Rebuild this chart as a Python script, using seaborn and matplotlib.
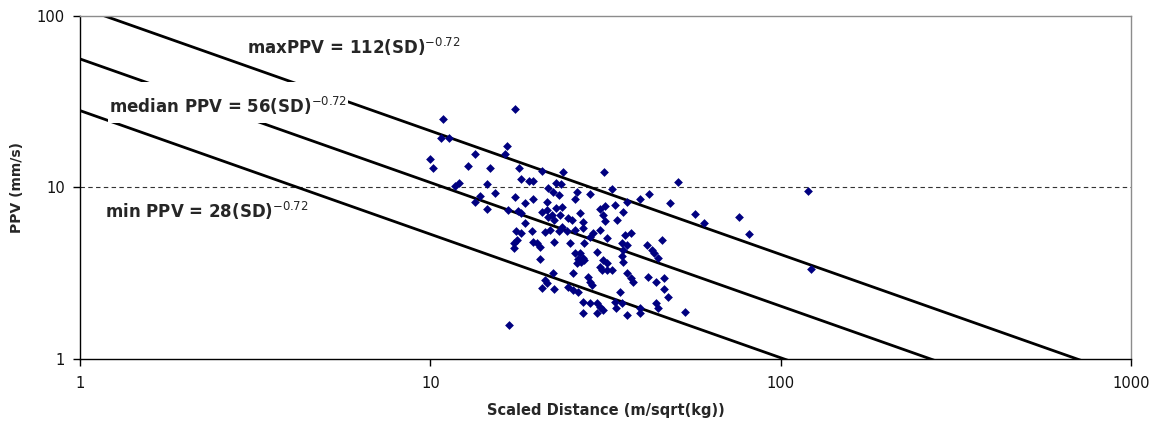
import numpy as np
import pandas as pd
import seaborn as sns
import matplotlib
matplotlib.use("Agg")
import matplotlib.pyplot as plt
from matplotlib.path import Path
from matplotlib.ticker import FixedLocator, FixedFormatter, NullLocator

# ---- data ----
scaled_distance = [
    17.5, 10.9, 10.7, 11.3, 16.6, 16.3, 13.4, 10.0, 10.2, 12.8,
    14.85, 17.9, 20.9, 18.2, 19.1, 19.6, 11.75, 12.1, 14.5, 15.3,
    13.9, 17.5, 19.6, 18.6, 13.4, 14.5, 21.5, 21.6, 22.4, 22.9,
    21.5, 22.9, 16.7, 17.8, 18.2, 20.9, 21.6, 22.2, 22.6, 18.6,
    17.6, 18.2, 19.5, 21.2, 21.9, 17.3, 17.7, 19.6, 20.2, 20.5,
    17.3, 22.6, 20.5, 22.4, 21.2, 21.5, 20.9, 22.6, 16.75, 23.9,
    31.3, 50.8, 23.6, 26.2, 25.9, 28.5, 32.9, 42.0, 39.6, 48.2,
    33.6, 36.4, 31.5, 30.45, 35.5, 23.7, 23.3, 56.8, 23.4, 24.7,
    25.3, 26.7, 27.2, 31.1, 34.1, 23.7, 24.5, 27.2, 29.1, 28.5,
    30.45, 25.0, 27.5, 32.0, 35.9, 37.5, 35.2, 36.4, 41.5, 42.8,
    43.6, 45.8, 25.9, 26.7, 27.2, 26.4, 26.2, 27.0, 27.5, 30.0,
    31.1, 31.9, 30.45, 30.85, 31.9, 32.9, 35.4, 35.2, 35.4, 44.6,
    25.5, 28.1, 36.4, 37.5, 37.8, 41.7, 44.1, 46.5, 24.7, 25.5,
    26.4, 28.5, 28.9, 34.7, 27.2, 28.5, 29.9, 30.45, 31.1, 33.6,
    33.8, 35.2, 39.6, 27.2, 30.0, 36.4, 39.6, 44.1, 46.3, 47.6,
    44.6, 53.2, 60.3, 75.9, 81.0, 119.4, 121.8, 31.5, 25.9, 23.3,
]
ppv_values = [
    28.6, 24.9, 19.4, 19.4, 17.4, 15.6, 15.6, 14.6, 12.9, 13.4,
    13.0, 13.0, 12.4, 11.2, 10.9, 10.9, 10.2, 10.6, 10.4, 9.3,
    8.9, 8.75, 8.6, 8.1, 8.2, 7.5, 8.2, 9.9, 9.4, 10.6,
    7.4, 7.6, 7.4, 7.3, 7.1, 7.2, 6.7, 6.9, 6.45, 6.2,
    5.57, 5.42, 5.57, 5.5, 5.64, 4.74, 4.93, 4.8, 4.74, 4.5,
    4.45, 4.8, 3.82, 3.17, 2.88, 2.77, 2.59, 2.55, 1.58, 12.3,
    12.3, 10.7, 10.4, 9.4, 8.55, 9.2, 9.8, 9.2, 8.55, 8.1,
    7.9, 8.2, 7.8, 7.5, 7.2, 7.7, 9.0, 6.98, 6.9, 6.6,
    6.45, 7.1, 6.3, 6.9, 6.45, 5.87, 5.57, 5.8, 5.42, 5.13,
    5.64, 4.74, 4.74, 5.07, 5.3, 5.42, 4.74, 4.6, 4.6, 4.31,
    4.14, 4.93, 4.14, 4.14, 3.87, 3.82, 3.63, 3.67, 3.77, 4.2,
    3.77, 3.63, 3.44, 3.30, 3.30, 3.30, 4.31, 3.97, 3.67, 3.87,
    3.17, 3.0, 3.17, 2.96, 2.81, 3.0, 2.81, 2.96, 2.62, 2.52,
    2.45, 2.81, 2.7, 2.45, 2.15, 2.12, 2.12, 2.0, 1.93, 2.15,
    1.98, 2.12, 1.98, 1.85, 1.85, 1.8, 1.85, 2.12, 2.55, 2.3,
    1.98, 1.88, 6.2, 6.7, 5.34, 9.5, 3.35, 6.4, 5.64, 5.57,
]

curve_names = ["max", "median", "min"]
curve_coefs = [112, 56, 28]
curve_exponent = -0.72
curve_sd = [1, 1000]
curve_labels = ["maxPPV = 112(SD)", "median PPV = 56(SD)", "min PPV = 28(SD)"]
threshold_ppv = 10

x_ticks = [1, 10, 100, 1000]
x_ticklabels = ["1", "10", "100", "1000"]
y_ticks = [1, 10, 100]
y_ticklabels = ["1", "10", "100"]

# ---- tables ----
points = pd.DataFrame({"sd": scaled_distance, "ppv": ppv_values})
rows = []
for name, c in zip(curve_names, curve_coefs):
    for s in curve_sd:
        rows.append({"curve": name, "sd": s, "ppv": c * s ** curve_exponent})
curves = pd.DataFrame(rows)

# ---- style ----
sns.set_theme(style="white")
plt.rcParams["font.family"] = ["DejaVu Sans"]
plt.rcParams["mathtext.fontset"] = "dejavusans"
plt.rcParams["mathtext.default"] = "rm"
plt.rcParams["xtick.bottom"] = True
plt.rcParams["ytick.left"] = True
plt.rcParams["xtick.major.size"] = 5
plt.rcParams["ytick.major.size"] = 5
plt.rcParams["xtick.major.width"] = 1
plt.rcParams["ytick.major.width"] = 1
plt.rcParams["xtick.color"] = "black"
plt.rcParams["ytick.color"] = "black"

fig = plt.figure(figsize=(11.56, 4.28), dpi=100)
ax = fig.add_axes([80 / 1156, 69 / 428, 1051 / 1156, 343.3 / 428])

ax.set_xscale("log")
ax.set_yscale("log")

sns.lineplot(data=curves, x="sd", y="ppv", units="curve", estimator=None,
             color="black", linewidth=2.0, ax=ax, zorder=2, legend=False)

ax.axhline(threshold_ppv, color="#333333", linewidth=0.8, dashes=(4, 3), zorder=1.5)

sns.scatterplot(data=points, x="sd", y="ppv", marker="D", s=20,
                color="#000080", linewidth=0, ax=ax, zorder=4, legend=False)


def label_box(x0, y0, width, height, mutation_size):
    # white label background, taller above the text than below (as in the source)
    left = x0 - 0.05 * mutation_size
    right = x0 + width + 0.1 * mutation_size
    bottom = y0 - 0.35 * mutation_size
    top = y0 + height + 0.75 * mutation_size
    return Path([(left, bottom), (right, bottom), (right, top), (left, top), (left, bottom)],
                closed=True)


sup = r"$^{\mathrm{%s}}$" % str(curve_exponent)
ax.text(3.0, 59.7, curve_labels[0] + sup, fontsize=12, fontweight="bold",
        ha="left", va="baseline", zorder=3,
        bbox=dict(boxstyle="square,pad=0.1", facecolor="white", edgecolor="none"))
ax.text(1.21, 27.1, curve_labels[1] + sup, fontsize=12, fontweight="bold",
        ha="left", va="baseline", zorder=3,
        bbox=dict(boxstyle=label_box, facecolor="white", edgecolor="none"))
ax.text(1.18, 6.62, curve_labels[2] + sup, fontsize=12, fontweight="bold",
        ha="left", va="baseline", zorder=3)

ax.set_xlim(1, 1000)
ax.set_ylim(1, 100)

ax.xaxis.set_major_locator(FixedLocator(x_ticks))
ax.xaxis.set_major_formatter(FixedFormatter(x_ticklabels))
ax.xaxis.set_minor_locator(NullLocator())
ax.yaxis.set_major_locator(FixedLocator(y_ticks))
ax.yaxis.set_major_formatter(FixedFormatter(y_ticklabels))
ax.yaxis.set_minor_locator(NullLocator())

ax.tick_params(axis="both", which="major", direction="out", length=5, width=1,
               color="black", labelsize=10.6, labelcolor="#111111",
               bottom=True, left=True, top=False, right=False)
ax.tick_params(axis="x", pad=7)
ax.tick_params(axis="y", pad=6)

for side in ["left", "bottom"]:
    ax.spines[side].set_color("black")
    ax.spines[side].set_linewidth(1.0)
for side in ["top", "right"]:
    ax.spines[side].set_color("#8c8c8c")
    ax.spines[side].set_linewidth(1.0)
    ax.spines[side].set_visible(True)

ax.set_xlabel("Scaled Distance (m/sqrt(kg))", fontsize=10.5, fontweight="bold", labelpad=9)
ax.set_ylabel("PPV (mm/s)", fontsize=10, fontweight="bold", labelpad=9)

fig.savefig("out.png", dpi=100, facecolor="white")
